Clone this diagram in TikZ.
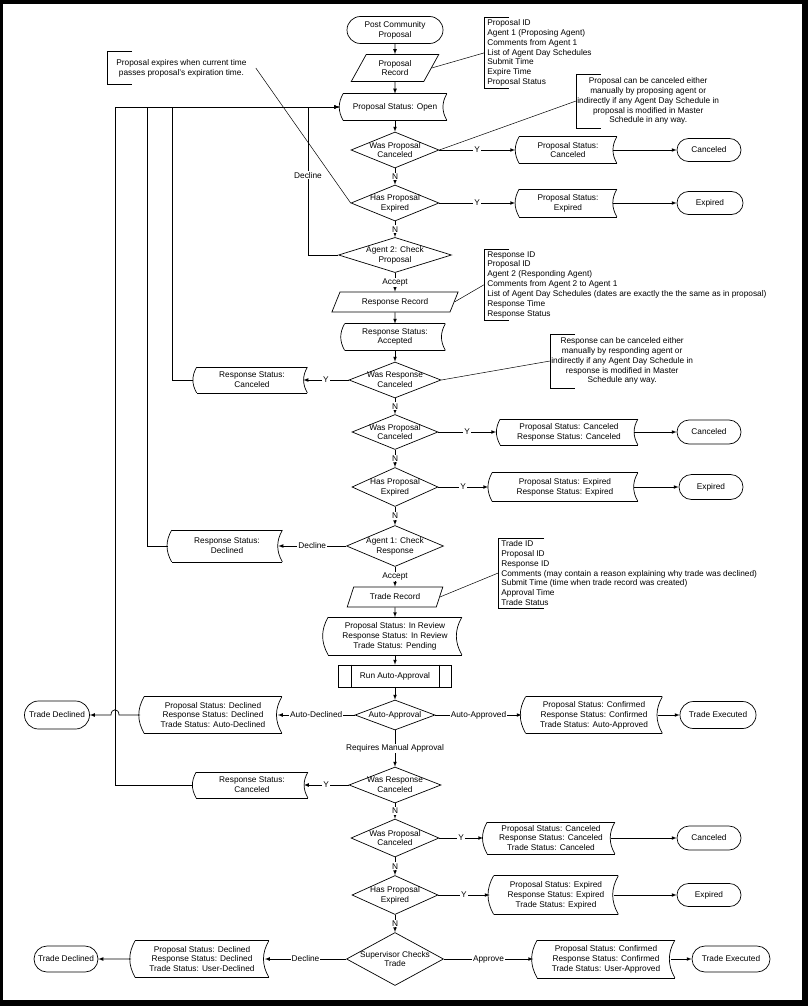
\documentclass[tikz,border=0pt]{standalone}
\usepackage{fontspec}
\setmainfont{Liberation Sans}
\usetikzlibrary{shapes.geometric}
\usetikzlibrary{shapes.misc}
\tikzset{
  box/.style={
    align=center,
    inner xsep=2pt,
    inner ysep=1pt,
  },
  term/.style={
    box,
    draw,
    rounded rectangle,
  },
  record/.style={
    box,
    draw,
    trapezium,
    trapezium left angle=62,
    trapezium right angle=118,
    trapezium stretches=true,
  },
  status/.style={
    box,
    append after command={
      (\tikzlastnode.north west) edge (\tikzlastnode.north east)
      (\tikzlastnode.north east) edge [bend right=30] (\tikzlastnode.south east)
      (\tikzlastnode.south east) edge (\tikzlastnode.south west)
      (\tikzlastnode.south west) edge [bend left=30] (\tikzlastnode.north west)
    },
  },
  process/.style={
    box,
    draw,
    append after command={
      ([xshift=13pt]\tikzlastnode.north west) edge ([xshift=13pt]\tikzlastnode.south west)
      ([xshift=-13pt]\tikzlastnode.north east) edge ([xshift=-13pt]\tikzlastnode.south east)
    },
  },
  decision/.style={
    box,
    draw,
    diamond,
    inner xsep=-14pt,
    inner ysep=-6pt,
  },
  bracket/.style={
    append after command={
      ([xshift=#1]\tikzlastnode.north west) edge (\tikzlastnode.north west)
      (\tikzlastnode.north west) edge (\tikzlastnode.south west)
      (\tikzlastnode.south west) edge ([xshift=#1]\tikzlastnode.south west)
    },
  },
  info/.style={
    align=left,
    inner xsep=3pt,
    inner ysep=2pt,
    bracket=#1,
  },
  info/.default=25pt,
  remark/.style={
    align=center,
    inner xsep=1pt,
    inner ysep=3pt,
    bracket=25pt,
  },
  flow/.style={
    draw,
    >=latex,
    ->,
  },
  leader/.style={
    draw,
    line width=0.5pt,
  },
  tag/.style={
    fill=white,
    inner sep=1pt,
  },
}

\begin{document}
\begin{tikzpicture}[x=1pt, y=-1pt, line width=0.7pt, font=\fontsize{8.3}{9.9}\selectfont]
  \useasboundingbox (0,0) rectangle (808,1006);
  \fill [black] (0,0) rectangle (808,1006);
  \fill [white] (3,4) rectangle (802,1000);

  \node (post)     [term, minimum width=100pt, minimum height=27pt]     at (395,30)  {Post Community\\Proposal};
  \node (prec)     [record, minimum width=88pt, minimum height=27pt]    at (395,68)  {Proposal\\Record};
  \node (open)     [status, minimum width=103pt, minimum height=26pt]   at (395,107) {Proposal Status: Open};
  \node (wpc1)     [decision, minimum width=88pt, minimum height=36pt]  at (395,150) {Was Proposal\\Canceled};
  \node (hpe1)     [decision, minimum width=88pt, minimum height=36pt]  at (395,203) {Has Proposal\\Expired};
  \node (check2)   [decision, minimum width=113pt, minimum height=34pt] at (395,255) {Agent 2: Check\\Proposal};
  \node (rrec)     [record, minimum width=127pt, minimum height=20pt]   at (395,302) {Response Record};
  \node (accepted) [status, minimum width=100pt, minimum height=26pt]   at (395,337) {Response Status:\\Accepted};
  \node (wrc1)     [decision, minimum width=92pt, minimum height=36pt]  at (395,380) {Was Response\\Canceled};
  \node (wpc2)     [decision, minimum width=86pt, minimum height=35pt]  at (395,432) {Was Proposal\\Canceled};
  \node (hpe2)     [decision, minimum width=86pt, minimum height=39pt]  at (395,487) {Has Proposal\\Expired};
  \node (check1)   [decision, minimum width=97pt, minimum height=41pt]  at (395,546) {Agent 1: Check\\Response};
  \node (trec)     [record, minimum width=96pt, minimum height=20pt]    at (395,597) {Trade Record};
  \node (review)   [status, minimum width=133pt, minimum height=37pt]   at (395,636) {Proposal Status: In Review\\Response Status: In Review\\Trade Status: Pending};
  \node (run)      [process, minimum width=113pt, minimum height=22pt]  at (395,676) {Run Auto-Approval};
  \node (auto)     [decision, minimum width=80pt, minimum height=30pt]  at (395,715) {Auto-Approval};
  \node (wrc2)     [decision, minimum width=92pt, minimum height=36pt]  at (395,785) {Was Response\\Canceled};
  \node (wpc3)     [decision, minimum width=88pt, minimum height=38pt]  at (395,838) {Was Proposal\\Canceled};
  \node (hpe3)     [decision, minimum width=86pt, minimum height=39pt]  at (395,895) {Has Proposal\\Expired};
  \node (super)    [decision, minimum width=97pt, minimum height=53pt]  at (395,959) {Supervisor Checks\\Trade};

  \node (pcan)  [status, minimum width=97pt, minimum height=26pt]  at (568,150) {Proposal Status:\\Canceled};
  \node (end1)  [term, minimum width=68pt, minimum height=23pt]    at (709,150) {Canceled};
  \node (pexp)  [status, minimum width=97pt, minimum height=27pt]  at (568,203) {Proposal Status:\\Expired};
  \node (end2)  [term, minimum width=70pt, minimum height=23pt]    at (710,203) {Expired};
  \node (rcan1) [status, minimum width=110pt, minimum height=25pt] at (252,380) {Response Status:\\Canceled};
  \node (prcan) [status, minimum width=137pt, minimum height=25pt] at (569,432) {Proposal Status: Canceled\\Response Status: Canceled};
  \node (end3)  [term, minimum width=68pt, minimum height=24pt]    at (709,432) {Canceled};
  \node (prexp) [status, minimum width=145pt, minimum height=28pt] at (565,487) {Proposal Status: Expired\\Response Status: Expired};
  \node (end4)  [term, minimum width=68pt, minimum height=25pt]    at (711,487) {Expired};
  \node (rdec)  [status, minimum width=110pt, minimum height=31pt] at (227,546) {Response Status:\\Declined};
  \node (adec)  [status, minimum width=137pt, minimum height=36pt] at (213,715) {Proposal Status: Declined\\Response Status: Declined\\Trade Status: Auto-Declined};
  \node (tdec1) [term, minimum width=69pt, minimum height=28pt]    at (57,715)  {Trade Declined};
  \node (aapp)  [status, minimum width=136pt, minimum height=36pt] at (594,715) {Proposal Status: Confirmed\\Response Status: Confirmed\\Trade Status: Auto-Approved};
  \node (texe1) [term, minimum width=80pt, minimum height=27pt]    at (718,715) {Trade Executed};
  \node (rcan2) [status, minimum width=111pt, minimum height=25pt] at (252,785) {Response Status:\\Canceled};
  \node (tcan)  [status, minimum width=127pt, minimum height=31pt] at (551,838) {Proposal Status: Canceled\\Response Status: Canceled\\Trade Status: Canceled};
  \node (end5)  [term, minimum width=68pt, minimum height=24pt]    at (709,838) {Canceled};
  \node (texp)  [status, minimum width=124pt, minimum height=38pt] at (556,895) {Proposal Status: Expired\\Response Status: Expired\\Trade Status: Expired};
  \node (end6)  [term, minimum width=68pt, minimum height=23pt]    at (709,895) {Expired};
  \node (udec)  [status, minimum width=133pt, minimum height=36pt] at (202,959) {Proposal Status: Declined\\Response Status: Declined\\Trade Status: User-Declined};
  \node (tdec2) [term, minimum width=68pt, minimum height=26pt]    at (66,959)  {Trade Declined};
  \node (uapp)  [status, minimum width=137pt, minimum height=37pt] at (606,959) {Proposal Status: Confirmed\\Response Status: Confirmed\\Trade Status: User-Approved};
  \node (texe2) [term, minimum width=82pt, minimum height=26pt]    at (731,959) {Trade Executed};

  \node (pinfo) [info, anchor=north west] at (484,17) {Proposal ID\\Agent 1 (Proposing Agent)\\Comments from Agent 1\\List of Agent Day Schedules\\Submit Time\\Expire Time\\Proposal Status};
  \node (rinfo) [info, anchor=north west] at (484,249) {Response ID\\Proposal ID\\Agent 2 (Responding Agent)\\Comments from Agent 2 to Agent 1\\List of Agent Day Schedules (dates are exactly the the same as in proposal)\\Response Time\\Response Status};
  \node (tinfo) [info=46pt, anchor=north west] at (498,538) {Trade ID\\Proposal ID\\Response ID\\Comments (may contain a reason explaining why trade was declined)\\Submit Time (time when trade record was created)\\Approval Time\\Trade Status};
  \node (pnote) [remark, anchor=west] at (576,101) {Proposal can be canceled either\\manually by proposing agent or\\indirectly if any Agent Day Schedule in\\proposal is modified in Master\\Schedule in any way.};
  \node (rnote) [remark, anchor=west] at (550,361) {Response can be canceled either\\manually by responding agent or\\indirectly if any Agent Day Schedule in\\response is modified in Master\\Schedule any way.};
  \node (xnote) [remark, anchor=west, inner xsep=9pt, minimum height=32pt] at (107,68) {Proposal expires when current time\\passes proposal's expiration time.};

  \coordinate (back decline)  at (308,107);
  \coordinate (back cancel)   at (172,107);
  \coordinate (back declined) at (147,107);
  \coordinate (back cancel2)  at (115,107);
  \coordinate (hop)           at (115,715);

  \path [flow] (post) -- (prec);
  \path [flow] (prec) -- (open);
  \path [flow] (open) -- (wpc1);
  \path [flow] (wpc1) -- node [tag] {N} (hpe1);
  \path [flow] (hpe1) -- node [tag] {N} (check2);
  \path [flow] (check2) -- node [tag] {Accept} (rrec);
  \path [flow] (rrec) -- (accepted);
  \path [flow] (accepted) -- (wrc1);
  \path [flow] (wrc1) -- node [tag] {N} (wpc2);
  \path [flow] (wpc2) -- node [tag] {N} (hpe2);
  \path [flow] (hpe2) -- node [tag] {N} (check1);
  \path [flow] (check1) -- node [tag] {Accept} (trec);
  \path [flow] (trec) -- (review);
  \path [flow] (review) -- (run);
  \path [flow] (run) -- (auto);
  \path [flow] (auto) -- node [tag] {Requires Manual Approval} (wrc2);
  \path [flow] (wrc2) -- node [tag] {N} (wpc3);
  \path [flow] (wpc3) -- node [tag] {N} (hpe3);
  \path [flow] (hpe3) -- node [tag] {N} (super);

  \path [flow] (wpc1) -- node [tag] {Y} ([xshift=-4pt]pcan.west);
  \path [flow] ([xshift=-4pt]pcan.east) -- (end1);
  \path [flow] (hpe1) -- node [tag] {Y} ([xshift=-4pt]pexp.west);
  \path [flow] ([xshift=-4pt]pexp.east) -- (end2);
  \path [flow] (wrc1) -- node [tag] {Y} ([xshift=-4pt]rcan1.east);
  \path [flow] (wpc2) -- node [tag] {Y} ([xshift=-4pt]prcan.west);
  \path [flow] ([xshift=-4pt]prcan.east) -- (end3);
  \path [flow] (hpe2) -- node [tag] {Y} ([xshift=-4pt]prexp.west);
  \path [flow] ([xshift=-4pt]prexp.east) -- (end4);
  \path [flow] (check1) -- node [tag] {Decline} ([xshift=-4pt]rdec.east);
  \path [flow] (auto) -- node [tag] {Auto-Declined} ([xshift=-4pt]adec.east);
  \path [flow] ([xshift=-4pt]adec.west) -- ([xshift=4pt]hop) .. controls +(0,-7) and +(0,-7) .. ([xshift=-4pt]hop) -- (tdec1);
  \path [flow] (auto) -- node [tag] {Auto-Approved} ([xshift=-4pt]aapp.west);
  \path [flow] ([xshift=-4pt]aapp.east) -- (texe1);
  \path [flow] (wrc2) -- node [tag] {Y} ([xshift=-4pt]rcan2.east);
  \path [flow] (wpc3) -- node [tag] {Y} ([xshift=-4pt]tcan.west);
  \path [flow] ([xshift=-4pt]tcan.east) -- (end5);
  \path [flow] (hpe3) -- node [tag] {Y} ([xshift=-4pt]texp.west);
  \path [flow] ([xshift=-4pt]texp.east) -- (end6);
  \path [flow] (super) -- node [tag] {Decline} ([xshift=-4pt]udec.east);
  \path [flow] ([xshift=-4pt]udec.west) -- (tdec2);
  \path [flow] (super) -- node [tag] {Approve} ([xshift=-4pt]uapp.west);
  \path [flow] ([xshift=-4pt]uapp.east) -- (texe2);

  \path [flow] (check2.west) -| node [tag, pos=0.77] {Decline} (back decline) -- ([xshift=-4pt]open.west);
  \path [flow] ([xshift=-4pt]rcan1.west) -| (back cancel) -- ([xshift=-4pt]open.west);
  \path [flow] ([xshift=-4pt]rdec.west) -| (back declined) -- ([xshift=-4pt]open.west);
  \path [flow] ([xshift=-4pt]rcan2.west) -| (back cancel2) -- ([xshift=-4pt]open.west);

  \path [leader] (prec.east) -- (pinfo.west);
  \path [leader] (pnote.west) -- (wpc1.east);
  \path [leader] (xnote.east) -- (hpe1.west);
  \path [leader] (rrec.east) -- (rinfo.west);
  \path [leader] (rnote.west) -- (wrc1.east);
  \path [leader] (trec.east) -- (tinfo.west);
\end{tikzpicture}
\end{document}
